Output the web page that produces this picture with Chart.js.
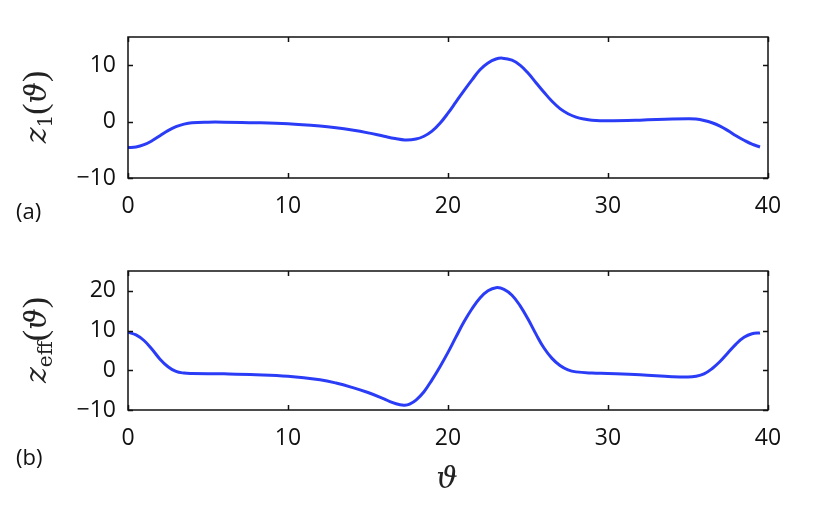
<!DOCTYPE html>
<html>
<head>
<meta charset="utf-8">
<script src="https://cdn.jsdelivr.net/npm/chart.js@4.4.0/dist/chart.umd.min.js"></script>
<style>
  body { margin: 0; background: #fff; }
  #wrap { position: relative; width: 823px; height: 513px; overflow: hidden; }
  canvas { position: absolute; left: 0; }
  .lbl { position: absolute; font-family: "Open Sans", sans-serif; font-size: 22px; color: #111; }
  .ytitle { position: absolute; font-family: "DejaVu Serif", serif; font-style: italic; font-size: 30px;
            color: #222; white-space: nowrap; line-height: 1; transform: translate(-50%, -50%) rotate(-90deg); }
  .ytitle sub { font-style: normal; font-size: 20px; vertical-align: -6px; }
  .up { font-style: normal; font-family: "Liberation Serif", serif; font-size: 34px; }
</style>
</head>
<body>
<div id="wrap">
  <canvas id="chartA" width="823" height="240" style="top:0"></canvas>
  <canvas id="chartB" width="823" height="273" style="top:240px"></canvas>
  <div class="ytitle" style="left:36px; top:107px">z<sub>1</sub><span class="up">(</span>ϑ<span class="up">)</span></div>
  <div class="ytitle" style="left:36px; top:340px">z<sub>eff</sub><span class="up">(</span>ϑ<span class="up">)</span></div>
  <div class="lbl" style="left:16px; top:195px">(a)</div>
  <div class="lbl" style="left:16px; top:441px">(b)</div>
  <div class="ytitle" style="left:447px; top:478px; transform: translate(-50%, -50%)">ϑ</div>
</div>
<script>
// ➤ Data
const thetaA = [0, 0.5, 1, 1.5, 2, 2.5, 3, 3.5, 4, 5, 6, 8, 10, 12, 13, 14, 15, 16, 16.7, 17.3, 18, 18.5, 19, 19.5,
  20, 20.5, 21, 21.5, 22, 22.5, 23, 23.4, 24, 24.5, 25, 25.5, 26, 26.5, 27, 27.5, 28, 28.5, 29, 30, 32, 34, 35,
  35.5, 36, 36.5, 37, 37.5, 38, 38.5, 39, 39.5];
const z1 = [-4.6, -4.5, -4.1, -3.4, -2.5, -1.6, -0.9, -0.45, -0.2, -0.1, -0.1, -0.2, -0.4, -0.8, -1.1, -1.5, -2.0,
  -2.6, -3.0, -3.25, -3.1, -2.6, -1.7, -0.3, 1.5, 3.5, 5.5, 7.4, 9.2, 10.4, 11.1, 11.25, 10.9, 10.0, 8.6, 6.9,
  5.2, 3.6, 2.3, 1.4, 0.8, 0.45, 0.25, 0.15, 0.25, 0.45, 0.5, 0.45, 0.2, -0.2, -0.8, -1.6, -2.5, -3.3, -4.0, -4.5];

const thetaB = [0, 0.5, 1, 1.5, 2, 2.5, 3, 3.5, 4, 6, 8, 10, 12, 13, 14, 15, 16, 16.5, 17, 17.3, 17.6, 18, 18.5,
  19, 19.5, 20, 20.5, 21, 21.5, 22, 22.5, 23, 23.5, 24, 24.5, 25, 25.5, 26, 26.5, 27, 27.5, 28, 29, 30, 32, 34,
  35, 35.5, 36, 36.5, 37, 37.5, 38, 38.5, 39, 39.5];
const zeff = [9.6, 8.9, 7.5, 5.3, 2.8, 0.9, -0.3, -0.7, -0.8, -0.9, -1.1, -1.5, -2.4, -3.2, -4.3, -5.6, -7.2, -8.1,
  -8.7, -8.8, -8.5, -7.5, -5.4, -2.4, 0.9, 4.5, 8.4, 12.2, 15.5, 18.2, 20.0, 20.8, 20.4, 18.9, 16.3, 12.9, 9.1,
  5.6, 3.0, 1.2, 0.1, -0.4, -0.7, -0.8, -1.1, -1.6, -1.7, -1.5, -0.9, 0.4, 2.2, 4.4, 6.6, 8.3, 9.2, 9.4];

const xRange = [0, 40];
const yRangeA = [-10, 15];
const yRangeB = [-10, 25];

const lineColor = "#2b3cf7";
const inkColor = "#111";
const tickFont = { family: "Open Sans", size: 23 };

// ➤ Box + inward ticks (matlab look)
const boxTicks = {
  id: "boxTicks",
  afterDraw(chart) {
    const { ctx, chartArea: a } = chart;
    const len = 5;
    ctx.save();
    ctx.strokeStyle = inkColor;
    ctx.lineWidth = 1.5;
    ctx.strokeRect(a.left, a.top, a.right - a.left, a.bottom - a.top);
    ctx.beginPath();
    chart.scales.x.ticks.forEach(t => {
      const px = Math.round(chart.scales.x.getPixelForValue(t.value)) + 0.5;
      ctx.moveTo(px, a.bottom); ctx.lineTo(px, a.bottom - len);
      ctx.moveTo(px, a.top); ctx.lineTo(px, a.top + len);
    });
    chart.scales.y.ticks.forEach(t => {
      const py = Math.round(chart.scales.y.getPixelForValue(t.value)) + 0.5;
      ctx.moveTo(a.left, py); ctx.lineTo(a.left + len, py);
      ctx.moveTo(a.right, py); ctx.lineTo(a.right - len, py);
    });
    ctx.stroke();
    ctx.restore();
  }
};

const minusLabel = v => String(v).replace("-", "\u2212");

function makeChart(id, xs, ys, yRange, pad, xHeight) {
  const ctx = document.getElementById(id).getContext("2d");
  return new Chart(ctx, {
    type: "line",
    data: {
      datasets: [{
        data: xs.map((x, i) => ({ x: x, y: ys[i] })),
        borderColor: lineColor,
        borderWidth: 3,
        pointRadius: 0,
        tension: 0.4,
        fill: false
      }]
    },
    options: {
      responsive: false,
      animation: false,
      layout: { padding: pad },
      plugins: { legend: { display: false }, tooltip: { enabled: false } },
      scales: {
        x: {
          type: "linear", min: xRange[0], max: xRange[1],
          grid: { display: false, drawTicks: false },
          border: { display: false },
          ticks: { stepSize: 10, padding: 15, color: inkColor, font: tickFont, callback: minusLabel },
          afterFit: s => { s.height = xHeight; }
        },
        y: {
          min: yRange[0], max: yRange[1],
          grid: { display: false, drawTicks: false },
          border: { display: false },
          ticks: { stepSize: 10, includeBounds: false, padding: 12, color: inkColor, font: tickFont, callback: minusLabel },
          afterFit: s => { s.width = 128; }
        }
      }
    },
    plugins: [boxTicks]
  });
}

makeChart("chartA", thetaA, z1, yRangeA, { left: 0, right: 55, top: 37, bottom: 0 }, 62);
makeChart("chartB", thetaB, zeff, yRangeB, { left: 0, right: 55, top: 31, bottom: 0 }, 103);
</script>
</body>
</html>
